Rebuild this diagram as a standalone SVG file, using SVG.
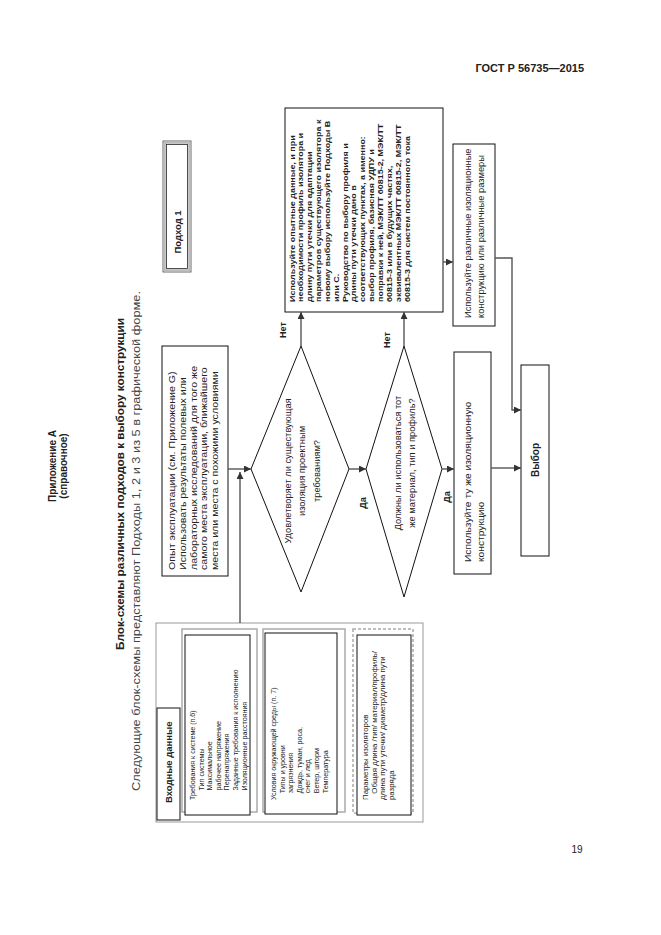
<svg xmlns="http://www.w3.org/2000/svg" width="661" height="935" viewBox="0 0 661 935">
<style>
.t{font-family:"Liberation Sans",Arial,sans-serif;fill:#222}
.b{font-weight:bold}
.box{fill:#fff;stroke:#111;stroke-width:1}
.frame{fill:none;stroke:#aaa;stroke-width:1.5}
.con{fill:none;stroke:#555;stroke-width:1.4}
.m{text-anchor:middle}
</style>
<defs>
<marker id="ah" viewBox="0 0 8 8" refX="8" refY="4" markerWidth="5" markerHeight="5" orient="auto"><path d="M0,0 L8,4 L0,8 z" fill="#333"/></marker>
</defs>
<rect width="661" height="935" fill="#fff"/>

<text class="t b" x="584" y="72" font-size="11" text-anchor="end">ГОСТ Р 56735—2015</text>
<text class="t" x="577" y="853" font-size="10" text-anchor="middle">19</text>

<g id="heading">
<text class="t b m" font-size="10" transform="translate(56,466) rotate(-90)">Приложение А</text>
<text class="t b m" font-size="10" transform="translate(67,466) rotate(-90)">(справочное)</text>
<text class="t b m" font-size="11.5" textLength="332" lengthAdjust="spacingAndGlyphs" transform="translate(124,484) rotate(-90)">Блок-схемы различных подходов к выбору конструкции</text>
<text class="t" font-size="10.5" style="fill:#444" textLength="500" lengthAdjust="spacingAndGlyphs" transform="translate(140,791) rotate(-90)">Следующие блок-схемы представляют Подходы 1, 2 и 3 из 5 в графической форме.</text>
</g>

<g id="approach1">
<rect x="163" y="141" width="28" height="131" fill="#fff" stroke="#444" stroke-width="0.8"/>
<rect x="164.8" y="142.8" width="24.4" height="127.4" fill="none" stroke="#bbb" stroke-width="2"/>
<rect x="166.5" y="144.5" width="21" height="124" fill="none" stroke="#222" stroke-width="0.8"/>
<text class="t b m" font-size="9.5" transform="translate(180.5,232) rotate(-90)">Подход 1</text>
</g>

<g id="inputs">
<rect x="156" y="623" width="267" height="199" fill="none" stroke="#999" stroke-width="1"/>
<g id="input-tab">
<rect class="box" x="157" y="708" width="23" height="112"/>
<text class="t b" font-size="9.5" transform="translate(171.5,803) rotate(-90)">Входные данные</text>
</g>
<g id="input-system">
<rect class="frame" x="182" y="629" width="75" height="183"/>
<rect class="box" x="185" y="635" width="65" height="180"/>
<g class="t" font-size="7.4" transform="translate(195,800) rotate(-90) scale(0.96,1)">
<text x="0" y="0">Требования к системе (п.6)</text>
<text x="10" y="8.6">Тип системы</text>
<text x="10" y="17.2">Максимальное</text>
<text x="10" y="25.8">рабочее напряжение</text>
<text x="10" y="34.4">Перенапряжения</text>
<text x="10" y="43">Заданные требования к исполнению</text>
<text x="10" y="51.6">Изоляционные расстояния</text>
</g>
</g>
<g id="input-env">
<rect class="frame" x="263" y="629" width="82" height="183"/>
<rect class="box" x="265" y="633" width="72" height="181"/>
<g class="t" font-size="7.4" transform="translate(276,800) rotate(-90) scale(0.96,1)">
<text x="0" y="0">Условия окружающей среды (п. 7)</text>
<text x="7" y="8.6">Типы и уровни</text>
<text x="7" y="17.2">загрязнения</text>
<text x="7" y="25.8">Дождь, туман, роса,</text>
<text x="7" y="34.4">снег и лед</text>
<text x="7" y="43">Ветер, шторм</text>
<text x="7" y="51.6">Температура</text>
</g>
</g>
<g id="input-params">
<rect class="frame" x="353" y="629" width="60" height="184" stroke-dasharray="3,2"/>
<rect class="box" x="357" y="635" width="54" height="180"/>
<g class="t" font-size="7.4" transform="translate(368,800) rotate(-90) scale(1.06,1)">
<text x="0" y="0">Параметры изоляторов</text>
<text x="6" y="8.6">Общая длина /тип/ материал/профиль/</text>
<text x="0" y="17.2">длина пути утечки/ диаметр/длина пути</text>
<text x="0" y="25.8">разряда</text>
</g>
</g>
</g>

<g id="experience">
<rect class="box" x="162" y="346" width="66" height="230"/>
<g class="t" font-size="9.5" transform="translate(175,570) rotate(-90) scale(1.12,1)">
<text x="0" y="0">Опыт эксплуатации (см. Приложение G)</text>
<text x="0" y="10.8">Использовать результаты полевых или</text>
<text x="0" y="21.6">лабораторных исследований для того же</text>
<text x="0" y="32.4">самого места эксплуатации, ближайшего</text>
<text x="0" y="43.2">места или места с похожими условиями</text>
</g>
</g>

<g id="decision1">
<polygon class="box" points="251,469 301,346 349,469 301,592"/>
<g class="t m" font-size="9.3" transform="translate(291,471) rotate(-90)">
<text x="0" y="0">Удовлетворяет ли существующая</text>
<text x="0" y="14.3">изоляция проектным</text>
<text x="0" y="28.6">требованиям?</text>
</g>
</g>

<g id="decision2">
<polygon class="box" points="366,469 404,346 442,469 404,597"/>
<g class="t m" font-size="9.3" transform="translate(401,463) rotate(-90)">
<text x="0" y="0">Должны ли использоваться тот</text>
<text x="0" y="14">же материал, тип и профиль?</text>
</g>
</g>

<g id="guidance">
<rect class="box" x="285" y="108" width="158" height="204"/>
<g class="t b" font-size="7.8" transform="translate(294.5,302) rotate(-90) scale(1.15,1)">
<text x="0" y="0">Используйте опытные данные, и при</text>
<text x="0" y="8.85">необходимости профиль изолятора и</text>
<text x="0" y="17.7">длину пути утечки для адаптации</text>
<text x="0" y="26.55">параметров существующего изолятора к</text>
<text x="0" y="35.4">новому выбору используйте Подходы В</text>
<text x="0" y="44.25">или С.</text>
<text x="0" y="53.1">Руководство по выбору профиля и</text>
<text x="0" y="61.95">длины пути утечки дано в</text>
<text x="0" y="70.8">соответствующих пунктах, а именно:</text>
<text x="0" y="79.65">выбор профиля, базисная УДПУ и</text>
<text x="0" y="88.5">поправки к ней, МЭК/ТТ 60815-2, МЭК/ТТ</text>
<text x="0" y="97.35">60815-3 или в будущих частях,</text>
<text x="0" y="106.2">эквивалентных МЭК/ТТ 60815-2, МЭК/ТТ</text>
<text x="0" y="115.05">60815-3 для систем постоянного тока</text>
</g>
</g>

<g id="different">
<rect class="box" x="453" y="144" width="42" height="182"/>
<g class="t" font-size="9.3" transform="translate(471,318) rotate(-90)">
<text x="0" y="0">Используйте различные изоляционные</text>
<text x="0" y="13">конструкцию или различные размеры</text>
</g>
</g>

<g id="same">
<rect class="box" x="454" y="352" width="37" height="222"/>
<g class="t" font-size="9.5" transform="translate(471,562) rotate(-90) scale(1.08,1)">
<text x="0" y="0">Используйте ту же изоляционную</text>
<text x="0" y="13">конструкцию</text>
</g>
</g>

<g id="choice">
<rect class="box" x="521" y="365" width="28" height="191"/>
<text class="t b m" font-size="10" transform="translate(538.5,460) rotate(-90)">Выбор</text>
</g>

<g id="connectors">
<path class="con" d="M240,623 V472" marker-end="url(#ah)"/>
<path class="con" d="M228,469 H251" marker-end="url(#ah)"/>
<path class="con" d="M301,346 V312" marker-end="url(#ah)"/>
<path class="con" d="M349,469 H366" marker-end="url(#ah)"/>
<path class="con" d="M404,346 V312" marker-end="url(#ah)"/>
<path class="con" d="M442,469 H454" marker-end="url(#ah)"/>
<path class="con" d="M443,262 H453" marker-end="url(#ah)"/>
<path class="con" d="M495,258 H512 V410 H521" marker-end="url(#ah)"/>
<path class="con" d="M491,468 H521" marker-end="url(#ah)"/>
<text class="t b m" font-size="9" transform="translate(286,330) rotate(-90)">Нет</text>
<text class="t b m" font-size="9" transform="translate(365.5,503) rotate(-90)">Да</text>
<text class="t b m" font-size="9" transform="translate(390,340) rotate(-90)">Нет</text>
<text class="t b m" font-size="9" transform="translate(450,497) rotate(-90)">Да</text>
</g>
</svg>
